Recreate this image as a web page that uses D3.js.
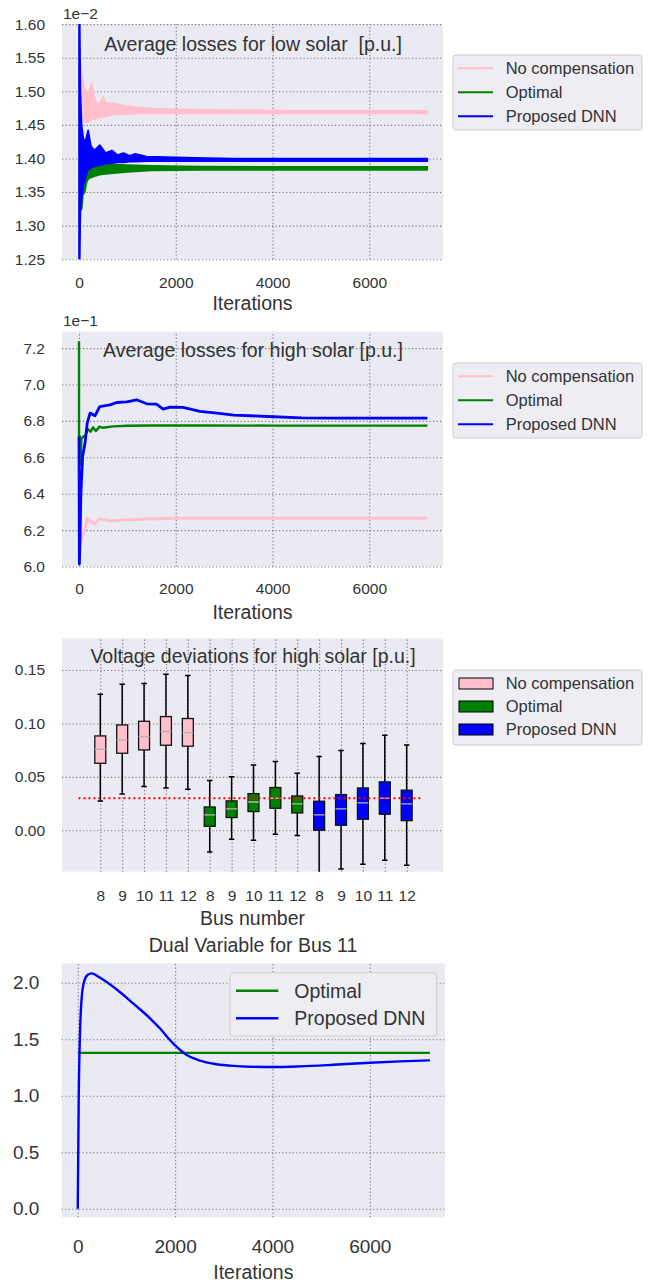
<!DOCTYPE html>
<html>
<head>
<meta charset="utf-8">
<title>losses and voltage deviations</title>
<script src="https://cdnjs.cloudflare.com/ajax/libs/d3/7.8.5/d3.min.js"></script>
<style>
body { margin:0; background:#fff; }
text { font-family: "Liberation Sans", Arial, sans-serif; fill:#333; }
</style>
</head>
<body>
<svg id="fig" width="649" height="1284"></svg>
<script>
// ---- panel 1: average losses, low solar (x 1e-2), noisy -> upper / lower envelope
var lowPinkIter = [40, 60, 100, 150, 200, 260, 320, 380, 450, 500, 560, 700, 900, 1200, 1600, 2200, 3000, 4500, 7200];
var lowPinkHi   = [1.535, 1.525, 1.508, 1.500, 1.498, 1.512, 1.490, 1.480, 1.485, 1.492, 1.482, 1.482, 1.479, 1.476, 1.474, 1.473, 1.472, 1.471, 1.471];
var lowPinkLo   = [1.525, 1.480, 1.455, 1.453, 1.455, 1.458, 1.459, 1.460, 1.461, 1.462, 1.463, 1.465, 1.466, 1.467, 1.467, 1.467, 1.467, 1.467, 1.467];

var lowGreenIter = [20, 60, 80, 120, 160, 200, 300, 450, 700, 1000, 1500, 2500, 4000, 7200];
var lowGreenHi   = [1.355, 1.350, 1.362, 1.368, 1.380, 1.390, 1.391, 1.392, 1.391, 1.390, 1.389, 1.388, 1.3875, 1.3875];
var lowGreenLo   = [1.322, 1.325, 1.345, 1.350, 1.365, 1.370, 1.373, 1.376, 1.378, 1.380, 1.382, 1.383, 1.383, 1.383];

var lowBlueIter = [0, 15, 30, 55, 90, 130, 190, 250, 320, 430, 550, 680, 800, 920, 1050, 1160, 1400, 1800, 2400, 3200, 4500, 7200];
var lowBlueHi   = [1.62, 1.62, 1.50, 1.45, 1.43, 1.425, 1.442, 1.418, 1.412, 1.420, 1.408, 1.412, 1.405, 1.408, 1.404, 1.407, 1.403, 1.402, 1.401, 1.400, 1.400, 1.400];
var lowBlueLo   = [1.24, 1.24, 1.32, 1.34, 1.36, 1.37, 1.383, 1.386, 1.388, 1.390, 1.392, 1.393, 1.394, 1.394, 1.395, 1.395, 1.396, 1.396, 1.396, 1.396, 1.396, 1.396];

// ---- panel 2: average losses, high solar (x 1e-1)
var highPinkIter = [20, 50, 80, 120, 170, 230, 330, 430, 640, 900, 1300, 2000, 3000, 5000, 7200];
var highPink     = [6.13, 6.145, 6.18, 6.20, 6.265, 6.25, 6.235, 6.262, 6.25, 6.255, 6.26, 6.265, 6.265, 6.265, 6.265];

var highGreenIter = [0, 1, 20, 35, 50, 90, 130, 190, 240, 290, 350, 420, 500, 700, 1000, 1500, 2500, 4000, 7200];
var highGreen     = [7.237, 6.714, 6.714, 6.56, 6.70, 6.714, 6.72, 6.755, 6.74, 6.765, 6.745, 6.768, 6.762, 6.770, 6.773, 6.775, 6.775, 6.774, 6.774];

var highBlueIter = [0, 8, 20, 40, 75, 125, 170, 230, 330, 430, 640, 780, 985, 1190, 1400, 1600, 1740, 1880, 2150, 2500, 2850, 3200, 3900, 4600, 5250, 7200];
var highBlue     = [6.714, 6.014, 6.128, 6.403, 6.604, 6.678, 6.788, 6.843, 6.828, 6.879, 6.888, 6.901, 6.905, 6.916, 6.894, 6.892, 6.865, 6.876, 6.874, 6.852, 6.843, 6.832, 6.824, 6.817, 6.815, 6.815];

// ---- panel 3: voltage deviations box plots
var busLabels = ["8", "9", "10", "11", "12", "8", "9", "10", "11", "12", "8", "9", "10", "11", "12"];
var boxGroup  = [0, 0, 0, 0, 0, 1, 1, 1, 1, 1, 2, 2, 2, 2, 2];
var whiskLow  = [0.0275, 0.034, 0.0409, 0.0396, 0.0384, -0.0203, -0.0084, -0.0094, -0.0037, -0.005, -0.045, -0.0362, -0.0318, -0.0281, -0.0328];
var boxQ1     = [0.0627, 0.0721, 0.0752, 0.0796, 0.0787, 0.0037, 0.0119, 0.0175, 0.0206, 0.0162, 0.0, 0.0047, 0.0103, 0.015, 0.009];
var boxMed    = [0.0758, 0.0846, 0.0877, 0.0924, 0.0914, 0.0144, 0.020, 0.0265, 0.030, 0.0247, 0.0144, 0.020, 0.0256, 0.030, 0.0247];
var boxQ3     = [0.0883, 0.0986, 0.102, 0.1064, 0.1046, 0.0218, 0.0275, 0.0343, 0.040, 0.0321, 0.0272, 0.0334, 0.0396, 0.0453, 0.0375];
var whiskHigh = [0.1273, 0.1367, 0.1373, 0.146, 0.1448, 0.0465, 0.0502, 0.0612, 0.0643, 0.0534, 0.069, 0.0746, 0.0811, 0.0889, 0.0799];
var voltLimit = 0.03;

// ---- panel 4: dual variable for bus 11
var dualIter = [0, 20, 48, 82, 130, 199, 287, 459, 801, 1143, 1485, 1700, 1900, 2050, 2200, 2512, 2854, 3197, 3539, 4018, 4566, 5250, 6003, 6619, 7235];
var dualDNN  = [0, 0.99, 1.58, 1.876, 2.009, 2.068, 2.083, 2.044, 1.94, 1.815, 1.685, 1.59, 1.49, 1.425, 1.372, 1.31, 1.279, 1.264, 1.257, 1.254, 1.26, 1.274, 1.292, 1.304, 1.313];
var dualOptIter = [0, 7235];
var dualOpt     = [1.38, 1.38];

var seriesNames  = ["No compensation", "Optimal", "Proposed DNN"];
var seriesColors = ["pink", "green", "blue"];

var svg = d3.select("#fig");
var clipId = 0;

function panel(o) {
  var x0 = o.x.range()[0], x1 = o.x.range()[1], yb = o.y.range()[0], yt = o.y.range()[1];
  var g = svg.append("g");
  g.append("rect").attr("x", x0).attr("y", yt).attr("width", x1 - x0).attr("height", yb - yt).attr("fill", "#EAEAF2");
  var ya = g.append("g").attr("transform", "translate(" + x0 + ",0)")
    .call(d3.axisLeft(o.y).tickValues(o.yticks).tickFormat(d3.format(o.yfmt)).tickSize(-(x1 - x0)).tickPadding(o.ypad));
  var xa = g.append("g").attr("transform", "translate(0," + yb + ")")
    .call(d3.axisBottom(o.x).tickValues(o.xticks).tickFormat(o.xfmt).tickSize(-(yb - yt)).tickPadding(o.xpad));
  [ya, xa].forEach(function(a) {
    a.select(".domain").remove();
    a.selectAll("line").attr("stroke", "#7a7a7a").attr("stroke-width", 1.1).attr("stroke-dasharray", "1.2,2.3");
    a.selectAll("text").style("font-size", o.fs + "px");
  });
  clipId++;
  svg.append("clipPath").attr("id", "c" + clipId).append("rect")
    .attr("x", x0).attr("y", yt).attr("width", x1 - x0).attr("height", yb - yt);
  var plot = g.append("g").attr("clip-path", "url(#c" + clipId + ")");
  if (o.xlabel) {
    g.append("text").attr("x", (x0 + x1) / 2).attr("y", o.xlabelY).attr("text-anchor", "middle")
      .style("font-size", "19.5px").text(o.xlabel);
  }
  return {g: g, plot: plot};
}

function legend(o) {
  var g = svg.append("g");
  g.append("rect").attr("x", o.x).attr("y", o.y).attr("width", o.w).attr("height", o.h).attr("rx", 3)
    .attr("fill", "#EDEDF3").attr("stroke", "#cfcfcf");
  o.rows.forEach(function(ry, i) {
    var k = o.keys[i];
    if (o.patch) {
      g.append("rect").attr("x", o.sx0).attr("y", ry - 5.5).attr("width", o.sx1 - o.sx0).attr("height", 11)
        .attr("fill", seriesColors[k]).attr("stroke", "#000").attr("stroke-width", 1);
    } else {
      g.append("line").attr("x1", o.sx0).attr("x2", o.sx1).attr("y1", ry).attr("y2", ry)
        .attr("stroke", seriesColors[k]).attr("stroke-width", o.lw);
    }
    g.append("text").attr("x", o.tx).attr("y", ry).attr("dy", "0.35em").style("font-size", o.fs + "px")
      .text(seriesNames[k]);
  });
}

function title(txt, x, y) {
  svg.append("text").attr("x", x).attr("y", y).attr("text-anchor", "middle")
    .style("font-size", "19.5px").style("white-space", "pre").text(txt);
}

var iterTicks = [0, 2000, 4000, 6000];

// ================= panel 1
var x1s = d3.scaleLinear().domain([-351, 7523]).range([62, 443]);
var y1s = d3.scaleLinear().domain([1.25, 1.60]).range([259.2, 24.1]);
var p1 = panel({x: x1s, y: y1s, xticks: iterTicks, yticks: d3.range(1.25, 1.6001, 0.05), yfmt: ".2f",
  xfmt: d3.format("d"), fs: 15.5, ypad: 17, xpad: 17.5, xlabel: "Iterations", xlabelY: 310});

function band(plot, xs, ys, it, hi, lo, color) {
  var idx = d3.range(it.length);
  plot.append("path").datum(idx)
    .attr("d", d3.area().x(function(i) { return xs(it[i]); })
      .y0(function(i) { return ys(lo[i]); }).y1(function(i) { return ys(hi[i]); }))
    .attr("fill", color).attr("stroke", color).attr("stroke-width", 1.6).attr("stroke-linejoin", "round");
}
band(p1.plot, x1s, y1s, lowPinkIter, lowPinkHi, lowPinkLo, "pink");
band(p1.plot, x1s, y1s, lowGreenIter, lowGreenHi, lowGreenLo, "green");
band(p1.plot, x1s, y1s, lowBlueIter, lowBlueHi, lowBlueLo, "blue");
svg.append("text").attr("x", 63).attr("y", 19.3).style("font-size", "15.5px").text("1e\u22122");
title("Average losses for low solar  [p.u.]", 253, 50.5);
legend({x: 453, y: 55, w: 189, h: 75, rows: [68.3, 92.3, 116.3], keys: [0, 1, 2], sx0: 458, sx1: 493, tx: 505.7,
  fs: 16.5, lw: 2});

// ================= panel 2
var x2s = d3.scaleLinear().domain([-351, 7523]).range([62, 443]);
var y2s = d3.scaleLinear().domain([6.0, 7.29]).range([566.5, 331.7]);
var p2 = panel({x: x2s, y: y2s, xticks: iterTicks, yticks: d3.range(6.0, 7.2001, 0.2), yfmt: ".1f",
  xfmt: d3.format("d"), fs: 15.5, ypad: 17, xpad: 16.2, xlabel: "Iterations", xlabelY: 618.7});

function line(plot, xs, ys, it, v, color, w) {
  var idx = d3.range(it.length);
  plot.append("path").datum(idx)
    .attr("d", d3.line().x(function(i) { return xs(it[i]); }).y(function(i) { return ys(v[i]); }))
    .attr("fill", "none").attr("stroke", color).attr("stroke-width", w).attr("stroke-linejoin", "round");
}
line(p2.plot, x2s, y2s, highPinkIter, highPink, "pink", 3);
line(p2.plot, x2s, y2s, highGreenIter, highGreen, "green", 2.4);
line(p2.plot, x2s, y2s, highBlueIter, highBlue, "blue", 2.8);
svg.append("text").attr("x", 63).attr("y", 326).style("font-size", "15.5px").text("1e\u22121");
title("Average losses for high solar [p.u.]", 253, 356.7);
legend({x: 453, y: 363, w: 189, h: 75, rows: [376.3, 400.3, 424.3], keys: [0, 1, 2], sx0: 458, sx1: 493, tx: 505.7,
  fs: 16.5, lw: 2});

// ================= panel 3
var x3s = d3.scaleLinear().domain([-0.75, 16.66]).range([62, 443]);
var y3s = d3.scaleLinear().domain([-0.0388, 0.1797]).range([871.7, 638.3]);
var boxPos = d3.range(1, busLabels.length + 1);
var p3 = panel({x: x3s, y: y3s, xticks: boxPos, yticks: [0, 0.05, 0.10, 0.15], yfmt: ".2f",
  xfmt: function(d) { return busLabels[d - 1]; }, fs: 15.5, ypad: 17, xpad: 18.4,
  xlabel: "Bus number", xlabelY: 925.3});

var bw = x3s(0.5) - x3s(0), cw = x3s(0.25) - x3s(0);
var boxes = p3.plot.selectAll("g.box").data(d3.range(busLabels.length)).enter().append("g");
boxes.append("line").attr("x1", function(i) { return x3s(boxPos[i]); }).attr("x2", function(i) { return x3s(boxPos[i]); })
  .attr("y1", function(i) { return y3s(whiskLow[i]); }).attr("y2", function(i) { return y3s(whiskHigh[i]); })
  .attr("stroke", "#000").attr("stroke-width", 1.5);
[whiskLow, whiskHigh].forEach(function(arr) {
  boxes.append("line").attr("x1", function(i) { return x3s(boxPos[i]) - cw / 2; })
    .attr("x2", function(i) { return x3s(boxPos[i]) + cw / 2; })
    .attr("y1", function(i) { return y3s(arr[i]); }).attr("y2", function(i) { return y3s(arr[i]); })
    .attr("stroke", "#000").attr("stroke-width", 1.5);
});
boxes.append("rect").attr("x", function(i) { return x3s(boxPos[i]) - bw / 2; }).attr("width", bw)
  .attr("y", function(i) { return y3s(boxQ3[i]); })
  .attr("height", function(i) { return y3s(boxQ1[i]) - y3s(boxQ3[i]); })
  .attr("fill", function(i) { return seriesColors[boxGroup[i]]; }).attr("stroke", "#111").attr("stroke-width", 1.3);
boxes.append("line").attr("x1", function(i) { return x3s(boxPos[i]) - bw / 2; })
  .attr("x2", function(i) { return x3s(boxPos[i]) + bw / 2; })
  .attr("y1", function(i) { return y3s(boxMed[i]); }).attr("y2", function(i) { return y3s(boxMed[i]); })
  .attr("stroke", "#b4b4b4").attr("stroke-width", 1.4);
p3.plot.append("line").attr("x1", x3s(0)).attr("x2", x3s(15.75)).attr("y1", y3s(voltLimit)).attr("y2", y3s(voltLimit))
  .attr("stroke", "red").attr("stroke-width", 2).attr("stroke-dasharray", "2,3");
title("Voltage deviations for high solar [p.u.]", 253, 663.3);
legend({x: 453, y: 670, w: 189, h: 75, rows: [683.5, 706.5, 729.5], keys: [0, 1, 2], sx0: 459, sx1: 493, tx: 505.7,
  fs: 16.5, patch: true});

// ================= panel 4
var x4s = d3.scaleLinear().domain([-330, 7545]).range([61.7, 445]);
var y4s = d3.scaleLinear().domain([-0.076, 2.172]).range([1217.3, 963.3]);
var p4 = panel({x: x4s, y: y4s, xticks: iterTicks, yticks: [0, 0.5, 1.0, 1.5, 2.0], yfmt: ".1f",
  xfmt: d3.format("d"), fs: 19, ypad: 22.4, xpad: 22, xlabel: "Iterations", xlabelY: 1278.7});
line(p4.plot, x4s, y4s, dualOptIter, dualOpt, "green", 2.2);
p4.plot.append("path").datum(d3.range(dualIter.length))
  .attr("d", d3.line().curve(d3.curveMonotoneX).x(function(i) { return x4s(dualIter[i]); })
    .y(function(i) { return y4s(dualDNN[i]); }))
  .attr("fill", "none").attr("stroke", "blue").attr("stroke-width", 2.4);
title("Dual Variable for Bus 11", 253, 952);
legend({x: 230, y: 972.7, w: 206.7, h: 63.3, rows: [990.7, 1018.3], keys: [1, 2], sx0: 236, sx1: 278.3, tx: 294.3,
  fs: 19.5, lw: 2.4});
</script>
</body>
</html>
